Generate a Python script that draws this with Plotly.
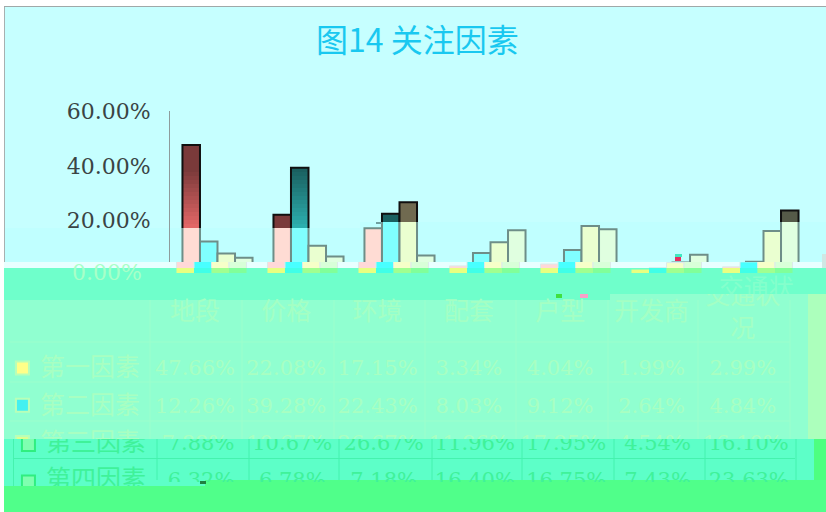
import plotly.graph_objects as go

categories = ["地段", "价格", "环境", "配套", "户型", "开发商", "交通状况"]
header_labels = ["地段", "价格", "环境", "配套", "户型", "开发商", "交通状<br>况"]
series_names = ["第一因素", "第二因素", "第三因素", "第四因素"]
first_factor = [47.66, 22.08, 17.15, 3.34, 4.04, 1.99, 2.99]
second_factor = [12.26, 39.28, 22.43, 8.03, 9.12, 2.64, 4.84]
third_factor = [7.88, 10.67, 26.67, 11.96, 17.95, 4.54, 16.10]
fourth_factor = [6.32, 6.78, 7.18, 16.40, 16.75, 7.43, 23.63]
all_series = [first_factor, second_factor, third_factor, fourth_factor]
tick_values = [60, 40, 20]
tick_labels = ["60.00%", "40.00%", "20.00%"]

W, H = 826, 512
Y0, PXY = 275, 2.73            # pixel of value 0, pixels per percent
CAT_L, CAT_W = 172, 91         # left of the category band, category width
AXIS_X = 170                   # pixel of the value axis line
COL_C, COL_W = 195, 91.3       # table: centre of first column, column width
ROW_Y, ROW_H = 368, 37.3       # table: centre of first row, row height
SERIF = "DejaVu Serif"
CJK = "Noto Sans CJK SC"

fig = go.Figure()
n_axes = [0]


def new_axes(x0, x1, y0, y1, xr, yr):
    n_axes[0] += 1
    n = n_axes[0]
    s = "" if n == 1 else str(n)
    fig.layout[f"xaxis{s}"] = dict(domain=[x0 / W, x1 / W], range=xr, visible=False, automargin=False,
                                   anchor=f"y{s}", fixedrange=True)
    fig.layout[f"yaxis{s}"] = dict(domain=[1 - y1 / H, 1 - y0 / H], range=yr, showgrid=False, automargin=False,
                                   zeroline=False, showticklabels=False, showline=False,
                                   anchor=f"x{s}", fixedrange=True)
    return f"x{s}", f"y{s}", s


def bar_panel(x0, x1, y0, y1, dx, colors, line_color, line_w):
    left = CAT_L + dx
    xr = [-0.5 + (x0 - left) / CAT_W, -0.5 + (x1 - left) / CAT_W]
    yr = [(Y0 - y1) / PXY, (Y0 - y0) / PXY]
    xa, ya, _ = new_axes(x0, x1, y0, y1, xr, yr)
    for name, vals, col in zip(series_names, all_series, colors):
        fig.add_trace(go.Bar(x=list(range(7)), y=vals, name=name, xaxis=xa, yaxis=ya,
                             marker=dict(color=col, line=dict(color=line_color, width=line_w)),
                             hoverinfo="skip", showlegend=False))


def text_panel(x0, x1, y0, y1, dx, dy, text_dy, val_color, head_color, swatch_fill, swatch_line,
               swatch_size, rows, columns, with_labels):
    xr = [(x0 - COL_C - dx) / COL_W, (x1 - COL_C - dx) / COL_W]
    yr = [(y1 - ROW_Y - dy) / ROW_H, (y0 - ROW_Y - dy) / ROW_H]
    xa, ya, _ = new_axes(x0, x1, y0, y1, xr, yr)
    common = dict(xaxis=xa, yaxis=ya, mode="text", hoverinfo="skip", showlegend=False)
    nudge = text_dy / ROW_H
    if head_color:
        fig.add_trace(go.Scatter(x=list(range(7)), y=[-1.5 + nudge] * 7, text=header_labels,
                                 textfont=dict(family=CJK, size=25, color=head_color), **common))
    for r in rows:
        if not columns:
            break
        vals = [all_series[r][c] for c in columns]
        fig.add_trace(go.Scatter(x=list(columns), y=[r + nudge] * len(vals), text=[f"{v:.2f}%" for v in vals],
                                 textfont=dict(family=SERIF, size=21, color=val_color), **common))
    if with_labels:
        fig.add_trace(go.Scatter(x=[-1.15] * len(rows), y=[r + nudge for r in rows],
                                 text=[series_names[r] for r in rows],
                                 textfont=dict(family=CJK, size=25, color=val_color), **common))
        fig.add_trace(go.Scatter(x=[-1.89] * len(rows), y=list(rows), mode="markers", xaxis=xa, yaxis=ya,
                                 marker=dict(symbol="square", size=swatch_size, color=swatch_fill,
                                             line=dict(color=swatch_line, width=2)),
                                 hoverinfo="skip", showlegend=False, cliponaxis=True))


# ---------- bar chart, tile by tile ----------
# invisible carrier for the value axis
xa, ya, s = new_axes(AXIS_X, 360, 111, 262, [-0.5, -0.5 + 190 / CAT_W], [(Y0 - 262) / PXY, (Y0 - 111) / PXY])
fig.add_trace(go.Bar(x=list(range(7)), y=first_factor, xaxis=xa, yaxis=ya, opacity=0,
                     hoverinfo="skip", showlegend=False))
fig.layout[f"yaxis{s}"].update(showline=True, linecolor="#8E9C9C", linewidth=1,
                               showticklabels=True, tickmode="array", tickvals=tick_values,
                               ticktext=tick_labels, ticks="outside", ticklen=14,
                               tickcolor="rgba(0,0,0,0)",
                               tickfont=dict(family=SERIF, size=22, color="#3A4444"))

DARK_S1, DARK_S2, DARK_S3, DARK_S4 = "#7A3A3A", "#1A6060", "#706A50", "#555A48"


def mix(a, b, t):
    return "rgb(%d,%d,%d)" % tuple(round(p + (q - p) * t) for p, q in zip(a, b))


edges = [111] + list(range(172, 229, 4))
for i in range(len(edges) - 1):
    t = i / (len(edges) - 2)
    c1 = [mix((0x7A, 0x3A, 0x3A), (0xE2, 0x66, 0x66), t)] + [DARK_S1] * 6
    c2 = [DARK_S2, mix((0x1A, 0x60, 0x60), (0x2C, 0xAE, 0xAE), t)] + [DARK_S2] * 5
    bar_panel(AXIS_X, 360, edges[i], edges[i + 1], 0, [c1, c2, DARK_S3, DARK_S4], "#101010", 2)

LIGHT = ["#FFDCD4", "#80FFFF", "#EAFFD0", "#E0FFE0"]
bar_panel(360, 807, 111, 222, 0, [LIGHT[0], DARK_S2, [LIGHT[2]] * 2 + [DARK_S3] + [LIGHT[2]] * 4,
                                  [LIGHT[3]] * 6 + [DARK_S4]], "#101010", 2)
bar_panel(AXIS_X, 360, 228, 262, 0, LIGHT, "#6E8E88", 2)
bar_panel(360, 807, 222, 262, 0, LIGHT, "#6E8E88", 2)
bar_panel(164, 803, 262, 268, -6, ["#FFD8D8", "#48FFFF", "#F6FFC8", "#D8FFD8"], "#DCEAEA", 1)
bar_panel(164, 803, 268, 273, -6, ["#E8FF80", "#40FFE8", "#A0FF90", "#80FF9A"], "#80FFB0", 0)

# ---------- table, tile by tile ----------
ALL_COLS = list(range(7))
UP, LOW = "#A8FFC2", "#3FF29A"
text_panel(4, 808, 294, 439, 0, 0, 2, UP, "#A4FFC4", ["#FFFF88", "#44F0F0", "#DDFF90"], "#B8FFB8", 13,
           [0, 1, 2], ALL_COLS, True)
text_panel(4, 152, 439, 486, 6, 2, 0, LOW, None, "#7FFFB0", "#30EE80", 13, [2, 3], [], True)
text_panel(152, 814, 439, 482, 6, 2, 0, LOW, None, "#7FFFB0", "#30EE80", 13, [2, 3], ALL_COLS, False)

# faint displaced copy of the last header, in the band above the table
xa, ya, _ = new_axes(700, 808, 268, 294, [0, 1], [0, 1])
fig.add_trace(go.Scatter(x=[0.52], y=[0.12], mode="text", text=["交通状"], xaxis=xa, yaxis=ya,
                         textfont=dict(family=CJK, size=25, color="#84FFCC"),
                         hoverinfo="skip", showlegend=False))

# ---------- background tiles ----------
def rect(x0, y0, x1, y1, color, layer="below"):
    return dict(type="rect", xref="paper", yref="paper", x0=x0 / W, x1=x1 / W,
                y0=1 - y1 / H, y1=1 - y0 / H, fillcolor=color, line_width=0, layer=layer)


def hline(y, x0, x1, color):
    return dict(type="line", xref="paper", yref="paper", x0=x0 / W, x1=x1 / W, y0=1 - y / H, y1=1 - y / H,
                line=dict(color=color, width=1), layer="below")


def vline(x, y0, y1, color):
    return dict(type="line", xref="paper", yref="paper", x0=x / W, x1=x / W, y0=1 - y0 / H, y1=1 - y1 / H,
                line=dict(color=color, width=1), layer="below")


shapes = [
    rect(4, 6, 826, 228, "#C6FFFF"),
    rect(4, 228, 826, 262, "#C0FFFF"),
    rect(360, 222, 826, 228, "#C0FFFF"),
    rect(4, 262, 826, 268, "#E8FFFF"),
    rect(822, 254, 826, 268, "#CFE8E4"),
    rect(4, 268, 826, 300, "#6FFFCB"),
    rect(4, 300, 808, 439, "#90FFD0"),
    rect(610, 294, 808, 300, "#90FFD0"),
    rect(808, 294, 826, 439, "#ACFFBC"),
    rect(4, 439, 814, 480, "#5DFFC8"),
    rect(814, 439, 826, 480, "#4DFF80"),
    rect(4, 480, 826, 512, "#50FF8A"),
    rect(4, 480, 205, 486, "#5DFFC8"),
    vline(4.5, 6, 262, "#A8B0B0"),
    hline(6.5, 4, 826, "#A0A8A8"),
]
for y in (342, 382, 421):
    shapes.append(hline(y, 10, 790, "#9CFFCC"))
for x in (150, 242, 334, 425, 516, 608, 698, 790):
    shapes.append(vline(x, 300, 439, "#9CFFCC"))
shapes.append(hline(458.5, 13, 795, "#45F2AE"))
for x in (157, 249, 339, 432, 522, 614, 705, 796):
    shapes.append(vline(x, 439, 480, "#45F2AE"))
shapes.append(vline(13.5, 439, 486, "#45F2AE"))
# stray specks of the damaged image
shapes += [rect(675, 254, 682, 257, "#40E8C0", "above"), rect(675, 257, 681, 261, "#E83060", "above"),
           rect(556, 294, 562, 298, "#40E040", "above"), rect(580, 294, 588, 298, "#F8A0C8", "above"),
           rect(376, 222, 382, 224, "#70A0A0", "above"), rect(200, 481, 206, 484, "#208040", "above")]

fig.update_layout(
    width=W, height=H, autosize=False, margin=dict(l=0, r=0, t=0, b=0),
    paper_bgcolor="#FFFFFF", plot_bgcolor="rgba(0,0,0,0)",
    barmode="group", bargap=0.23, bargroupgap=0, showlegend=False, shapes=shapes,
    annotations=[
        dict(text="图14 关注因素", x=417 / W, y=1 - 38 / H, xref="paper", yref="paper", showarrow=False,
             yanchor="middle", font=dict(family=CJK, size=32, color="#19C8F0")),
        dict(text="0.00%", x=144 / W, y=1 - 272 / H, xref="paper", yref="paper", showarrow=False,
             xanchor="right", yanchor="middle", font=dict(family=SERIF, size=22, color="#A8FFC8")),
    ],
)

fig.write_html("out.html", post_script="document.body.style.margin='0';document.body.style.overflow='hidden';",
               config=dict(displayModeBar=False))
